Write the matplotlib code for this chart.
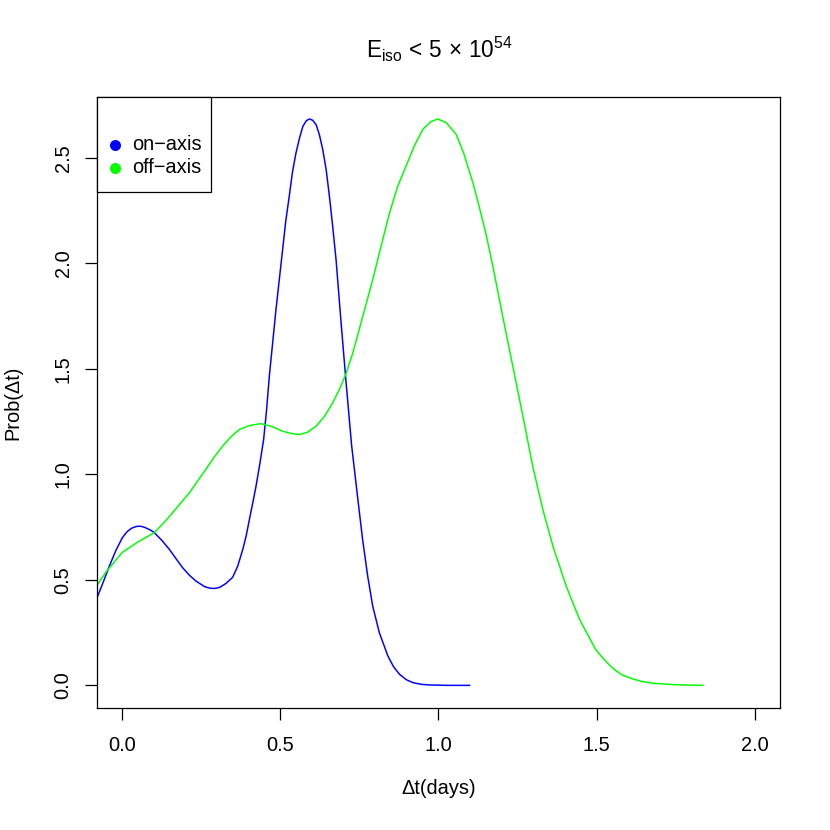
import matplotlib
matplotlib.use("Agg")
import matplotlib.pyplot as plt
from matplotlib.patches import Rectangle

plt.rcParams['font.family'] = ['Liberation Sans', 'DejaVu Sans']
plt.rcParams['mathtext.fontset'] = 'custom'
plt.rcParams['mathtext.rm'] = 'Liberation Sans'
plt.rcParams['mathtext.it'] = 'Liberation Sans:italic'
plt.rcParams['mathtext.bf'] = 'Liberation Sans:bold'

# ---- data ----
on_axis_x = [-0.082, -0.060, -0.041, -0.020, 0.000, 0.015, 0.030, 0.045, 0.057, 0.070,
             0.080, 0.090, 0.101, 0.125, 0.149, 0.170, 0.191, 0.212, 0.233, 0.260,
             0.275, 0.288, 0.300, 0.310, 0.328, 0.349, 0.365, 0.381, 0.392, 0.402,
             0.412, 0.423, 0.435, 0.447, 0.456, 0.465, 0.486, 0.507, 0.517, 0.528,
             0.538, 0.549, 0.560, 0.571, 0.582, 0.592, 0.602, 0.613, 0.623, 0.634,
             0.645, 0.655, 0.665, 0.676, 0.692, 0.706, 0.725, 0.745, 0.760, 0.776,
             0.792, 0.813, 0.840, 0.858, 0.877, 0.898, 0.919, 0.945, 0.972, 1.030,
             1.098]
on_axis_y = [0.407, 0.490, 0.565, 0.640, 0.699, 0.728, 0.745, 0.753, 0.754, 0.749,
             0.742, 0.735, 0.724, 0.687, 0.644, 0.600, 0.557, 0.522, 0.494, 0.468,
             0.461, 0.459, 0.461, 0.466, 0.483, 0.512, 0.565, 0.644, 0.710, 0.786,
             0.860, 0.944, 1.050, 1.165, 1.300, 1.465, 1.780, 2.064, 2.200, 2.317,
             2.430, 2.520, 2.590, 2.648, 2.675, 2.683, 2.677, 2.656, 2.610, 2.538,
             2.440, 2.317, 2.180, 2.017, 1.717, 1.465, 1.140, 0.881, 0.691, 0.518,
             0.375, 0.249, 0.139, 0.088, 0.052, 0.027, 0.013, 0.005, 0.002, 0.000,
             0.000]

off_axis_x = [-0.082, -0.047, 0.000, 0.050, 0.101, 0.130, 0.159, 0.212, 0.264, 0.290,
              0.317, 0.345, 0.370, 0.402, 0.439, 0.475, 0.507, 0.535, 0.560, 0.587,
              0.613, 0.640, 0.665, 0.686, 0.706, 0.728, 0.750, 0.792, 0.820, 0.845,
              0.870, 0.897, 0.925, 0.950, 0.975, 0.998, 1.025, 1.056, 1.080, 1.109,
              1.130, 1.150, 1.172, 1.203, 1.235, 1.267, 1.298, 1.330, 1.362, 1.404,
              1.446, 1.497, 1.525, 1.552, 1.580, 1.615, 1.645, 1.678, 1.750, 1.836]
off_axis_y = [0.470, 0.546, 0.630, 0.680, 0.723, 0.768, 0.818, 0.912, 1.023, 1.080,
              1.133, 1.180, 1.212, 1.231, 1.240, 1.225, 1.204, 1.193, 1.188, 1.200,
              1.228, 1.275, 1.338, 1.400, 1.470, 1.570, 1.690, 1.922, 2.090, 2.237,
              2.360, 2.459, 2.560, 2.633, 2.670, 2.683, 2.665, 2.610, 2.520, 2.380,
              2.260, 2.140, 1.985, 1.748, 1.512, 1.275, 1.038, 0.833, 0.659, 0.470,
              0.3125, 0.170, 0.120, 0.080, 0.050, 0.030, 0.018, 0.010, 0.003, 0.000]

series_labels = ["on\u2212axis", "off\u2212axis"]
series_colors = ["#0000FF", "#00FF00"]

x_ticks = [0.0, 0.5, 1.0, 1.5, 2.0]
x_ticklabels = ["0.0", "0.5", "1.0", "1.5", "2.0"]
y_ticks = [0.0, 0.5, 1.0, 1.5, 2.0, 2.5]
y_ticklabels = ["0.0", "0.5", "1.0", "1.5", "2.0", "2.5"]

title_text = r'$\mathrm{E}_{\mathrm{iso}}\,<\,5\,\times\,10^{54}$'
x_label = "\u0394t(days)"
y_label = "Prob(\u0394t)"

# ---- figure ----
W, H = 830, 830
DPI = 120
fig = plt.figure(figsize=(W / DPI, H / DPI), dpi=DPI)
ax = fig.add_axes([97 / W, 1 - 708 / H, (780 - 97) / W, (708 - 97) / H])

lw = 0.9
ax.plot(on_axis_x, on_axis_y, color=series_colors[0], lw=lw, solid_joinstyle='round')
ax.plot(off_axis_x, off_axis_y, color=series_colors[1], lw=lw, solid_joinstyle='round')

ax.set_xlim(-0.08, 2.08)
ax.set_ylim(-0.1072, 2.7872)

ax.set_xticks(x_ticks)
ax.set_xticklabels(x_ticklabels)
ax.set_yticks(y_ticks)
ax.set_yticklabels(y_ticklabels, rotation=90, va='center')

ax.tick_params(axis='both', direction='out', length=7.2, width=0.75,
               labelsize=12, colors='black')
ax.tick_params(axis='x', pad=9.5)
ax.tick_params(axis='y', pad=7.5)
for s in ax.spines.values():
    s.set_linewidth(0.75)
    s.set_color('black')

ax.set_xlabel(x_label, fontsize=12, va='center')
ax.xaxis.set_label_coords(0.5, -(789 - 708) / (708 - 97))
ax.set_ylabel(y_label, fontsize=12, va='center')
ax.yaxis.set_label_coords(-(97 - 13) / (780 - 97), 0.5)

fig.text(439 / W, 1 - 58 / H, title_text, ha='center', va='baseline', fontsize=13.5)

# ---- legend (R-style box in top-left corner) ----
aw = 780 - 97
ah = 708 - 97
ax.add_patch(Rectangle((0, 1 - (192 - 97) / ah), (211 - 97) / aw, (192 - 97) / ah,
                       transform=ax.transAxes, facecolor='white', edgecolor='black',
                       lw=0.75, zorder=5, clip_on=False))
entry_y = [1 - (144.5 - 97) / ah, 1 - (167.7 - 97) / ah]
for lab, col, yy in zip(series_labels, series_colors, entry_y):
    ax.plot([(115 - 97) / aw], [yy], marker='o', ms=5.6, color=col, mec=col,
            transform=ax.transAxes, zorder=6, clip_on=False, linestyle='none')
    ax.text((132.5 - 97) / aw, yy, lab, transform=ax.transAxes, fontsize=12,
            ha='left', va='center', zorder=6)

fig.savefig("out.png", dpi=DPI, facecolor='white')
